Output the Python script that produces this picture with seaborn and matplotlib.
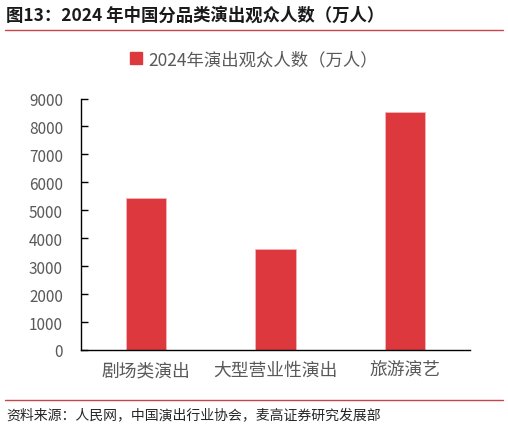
import matplotlib
matplotlib.use("Agg")
import matplotlib.pyplot as plt
import seaborn as sns
import pandas as pd
from matplotlib.lines import Line2D

categories = ["剧场类演出", "大型营业性演出", "旅游演艺"]
values = [5430, 3630, 8530]
yticks = [0, 1000, 2000, 3000, 4000, 5000, 6000, 7000, 8000, 9000]
series_name = "2024年演出观众人数（万人）"
title = "图13：2024 年中国分品类演出观众人数（万人）"
source = "资料来源：人民网，中国演出行业协会，麦高证券研究发展部"

sns.set_style("white")
plt.rcParams['font.family'] = ['Noto Sans CJK SC', 'DejaVu Sans']

df = pd.DataFrame({"cat": categories, "val": values, "series": series_name})

fig = plt.figure(figsize=(5.08, 4.27), dpi=100)
ax = fig.add_axes([81/508, 1-351/427, 389/508, 251.5/427])

bar_color = "#dc383e"
sns.barplot(data=df, x="cat", y="val", hue="series", palette=[bar_color],
            saturation=1, width=0.31, ax=ax, edgecolor="#f3b5b7",
            linewidth=0.6, legend=False)

ax.set_xlim(-0.5, 2.5)
ax.set_ylim(0, 9000)
ax.set_yticks(yticks)
ax.set_yticklabels([str(t) for t in yticks])
ax.set_xlabel("")
ax.set_ylabel("")
for s in ["top", "right"]:
    ax.spines[s].set_visible(False)
for s in ["left", "bottom"]:
    ax.spines[s].set_color("black")
    ax.spines[s].set_linewidth(1.0)
ax.tick_params(axis="y", direction="in", length=5, width=1, color="black",
               labelsize=11, labelcolor="#595959", pad=13, left=True)
ax.tick_params(axis="x", length=0, labelsize=12.8, labelcolor="#595959", pad=8)

# legend
handle = plt.Rectangle((0, 0), 1, 1, color=bar_color)
fig.legend([handle], [series_name], loc="center", bbox_to_anchor=(0.5, 1-60/427),
           frameon=False, fontsize=12.5, labelcolor="#595959",
           handlelength=0.7, handleheight=0.7, handletextpad=0.4)

# title and lines
fig.text(6/508, 1-16/427, title, fontsize=12.5, fontweight="bold",
         color="#1a1a1a", ha="left", va="center")
fig.add_artist(Line2D([5/508, 503/508], [1-31/427, 1-31/427], color="#c9454a", lw=1.0))
fig.add_artist(Line2D([5/508, 503/508], [1-401/427, 1-401/427], color="#c9454a", lw=1.0))
fig.text(6/508, 1-415/427, source, fontsize=10, color="#262626", ha="left", va="center")

fig.savefig("out.png", dpi=100)
